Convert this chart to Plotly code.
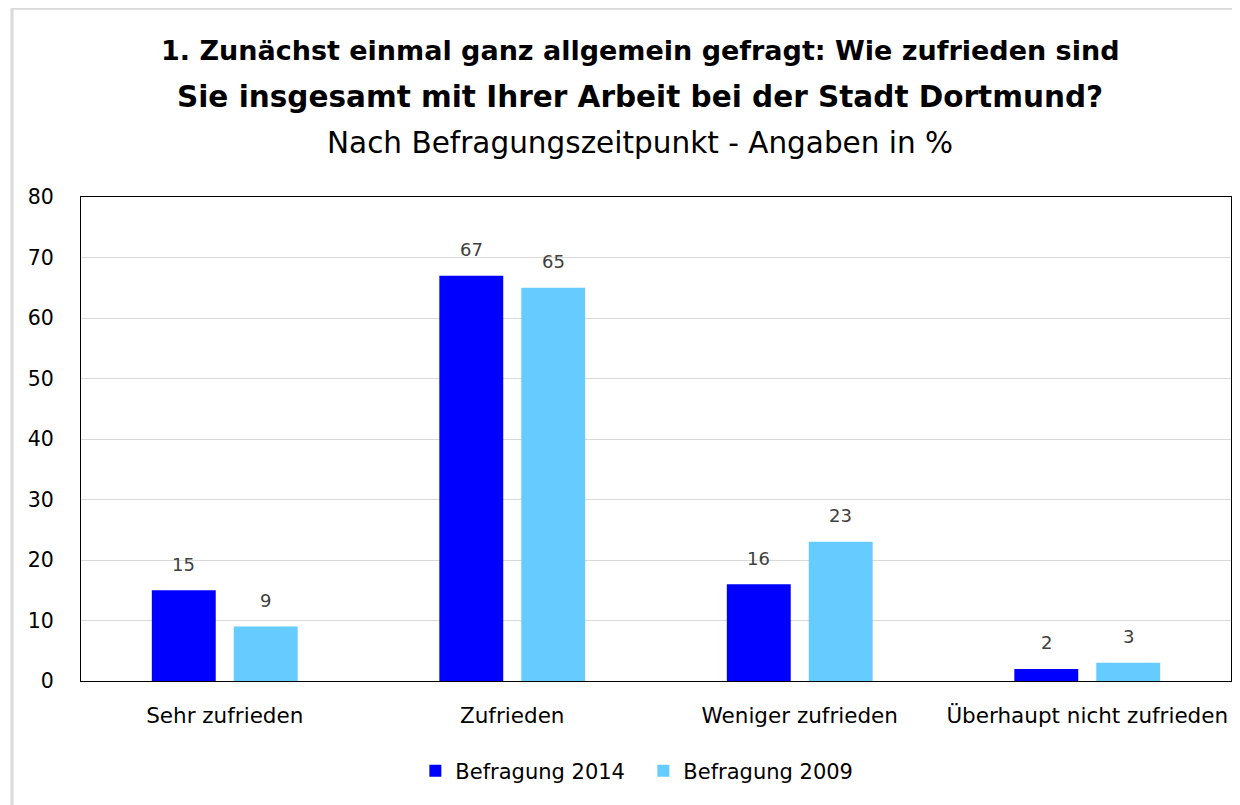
import plotly.graph_objects as go

categories = ['Sehr zufrieden', 'Zufrieden', 'Weniger zufrieden', 'Überhaupt nicht zufrieden']
befragung_2014 = [15, 67, 16, 2]
befragung_2009 = [9, 65, 23, 3]
series_names = ['Befragung 2014', 'Befragung 2009']
y_ticks = [0, 10, 20, 30, 40, 50, 60, 70, 80]

FONT = 'DejaVu Sans'

fig = go.Figure()
fig.add_trace(go.Bar(name=series_names[0], x=categories, y=befragung_2014,
                     marker={'color': '#0000ff', 'line': {'width': 0}}))
fig.add_trace(go.Bar(name=series_names[1], x=categories, y=befragung_2009,
                     marker={'color': '#66ccff', 'line': {'width': 0}}))

# value labels above the bars
for vals, shift in [(befragung_2014, -41), (befragung_2009, 41)]:
    for cat, v in zip(categories, vals):
        fig.add_annotation(x=cat, y=v, text=str(v), showarrow=False,
                           xshift=shift, yshift=26, xref='x', yref='y',
                           font={'family': FONT, 'size': 18, 'color': '#404040'})

# title lines as annotations (paper coords relative to the plot area)
titles = [
    ('<b>1. Zunächst einmal ganz allgemein gefragt: Wie zufrieden sind</b>', 1.3037, 27),
    ('<b>Sie insgesamt mit Ihrer Arbeit bei der Stadt Dortmund?</b>', 1.2066, 29.5),
    ('Nach Befragungszeitpunkt - Angaben in %', 1.1116, 29.5),
]
for txt, ypos, size in titles:
    fig.add_annotation(text=txt, x=0.4865, y=ypos, xref='paper', yref='paper',
                       showarrow=False, xanchor='center', yanchor='middle',
                       font={'family': FONT, 'size': size, 'color': 'black'})

# light grey frame of the chart (only top and left edges are inside the picture)
frame = {'color': '#d9d9d9', 'width': 3}
fig.add_shape(type='line', xref='paper', yref='paper', x0=-0.06, x1=1.2, y0=1.39, y1=1.39,
              line=frame, layer='below')
fig.add_shape(type='line', xref='paper', yref='paper', x0=-0.06, x1=-0.06, y0=-0.4, y1=1.39,
              line=frame, layer='below')

fig.update_layout(
    width=1232, height=797,
    margin={'l': 73, 'r': 9, 't': 189, 'b': 124},
    paper_bgcolor='white', plot_bgcolor='white',
    barmode='group', bargap=0.43, bargroupgap=0.22,
    font={'family': FONT, 'size': 21, 'color': 'black'},
    legend={'orientation': 'h', 'x': 0.489, 'xanchor': 'center', 'y': -0.186, 'yanchor': 'middle',
            'font': {'size': 21}, 'itemwidth': 30, 'traceorder': 'normal',
            'entrywidth': 183, 'entrywidthmode': 'pixels'},
)
fig.update_yaxes(range=[0, 80], tickvals=y_ticks, showgrid=True, gridcolor='#d9d9d9',
                 gridwidth=1, showline=True, linecolor='black', linewidth=1, mirror=True,
                 ticks='', ticklabelstandoff=22, zeroline=False,
                 tickfont={'size': 20.5, 'color': 'black'})
fig.update_xaxes(showline=True, linecolor='black', linewidth=1, mirror=True, ticks='',
                 ticklabelstandoff=15, tickfont={'size': 21.5, 'color': 'black'})

fig.write_html('out.html')
